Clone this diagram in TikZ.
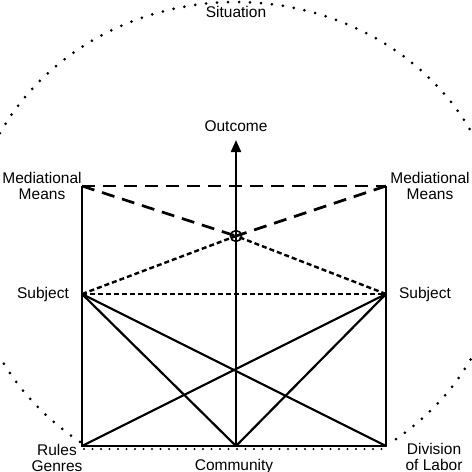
\documentclass[tikz,border=0pt]{standalone}
\usepackage{fontspec}
\setmainfont{Liberation Sans}
\usetikzlibrary{arrows.meta}
\begin{document}
\begin{tikzpicture}[x=1pt,y=-1pt,
  lbl/.style={font=\fontsize{15.5}{16}\selectfont, align=center, inner sep=0pt, anchor=base},
  solidline/.style={line width=2.2pt},
  longdash/.style={line width=2.7pt, dash pattern=on 13pt off 8pt},
  shortdash/.style={line width=2.4pt, dash pattern=on 5pt off 3pt},
  dotline/.style={line width=3pt, line cap=round, dash pattern=on 0pt off 11pt},
  smalldot/.style={line width=2.2pt, line cap=round, dash pattern=on 0pt off 8.5pt}]
\useasboundingbox (0,0) rectangle (472,472);
\clip (0,0) rectangle (472,472);
% key points
\coordinate (mmL) at (82,186);
\coordinate (mmR) at (386,186);
\coordinate (subL) at (82,294);
\coordinate (subR) at (386,294);
\coordinate (rules) at (82,446);
\coordinate (div) at (386,446);
\coordinate (comm) at (236,446);
\coordinate (obj) at (236,236);
\coordinate (out) at (236,140);
\coordinate (dotL) at (84,449);
\coordinate (dotR) at (384,449);
% situation boundary
\draw[dotline] plot[domain=234.1:-54.1, samples=240] ({236+266*cos(\x)},{245-243*sin(\x)});
\draw[smalldot] (dotL) -- (dotR);
% frame
\draw[solidline] (mmL) -- (rules) -- (div) -- (mmR);
\draw[longdash] (mmL) -- (mmR);
\draw[longdash] (mmL) -- (obj);
\draw[longdash] (mmR) -- (obj);
\draw[shortdash] (subL) -- (subR);
\draw[shortdash] (subL) -- (obj);
\draw[shortdash] (subR) -- (obj);
\draw[solidline] (subL) -- (comm);
\draw[solidline] (subL) -- (div);
\draw[solidline] (subR) -- (comm);
\draw[solidline] (subR) -- (rules);
\draw[solidline, -{Triangle[length=12pt,width=10pt]}] (comm) -- (out);
\draw[line width=1.6pt] (obj) circle[radius=5.5];
% labels
\node[lbl] (situation) at (236,17) {Situation};
\node[lbl] (outcome) at (236,131.5) {Outcome};
\node[lbl] (mmLl) at (42,199) {Mediational\\Means};
\node[lbl] (mmRl) at (430,199) {Mediational\\Means};
\node[lbl] (subLl) at (43,298) {Subject};
\node[lbl] (subRl) at (425,298) {Subject};
\node[lbl] (rulesl) at (57,471.5) {Rules\\Genres};
\node[lbl] (comml) at (234,470) {Community};
\node[lbl] (divl) at (434,470) {Division\\of Labor};
\end{tikzpicture}
\end{document}
